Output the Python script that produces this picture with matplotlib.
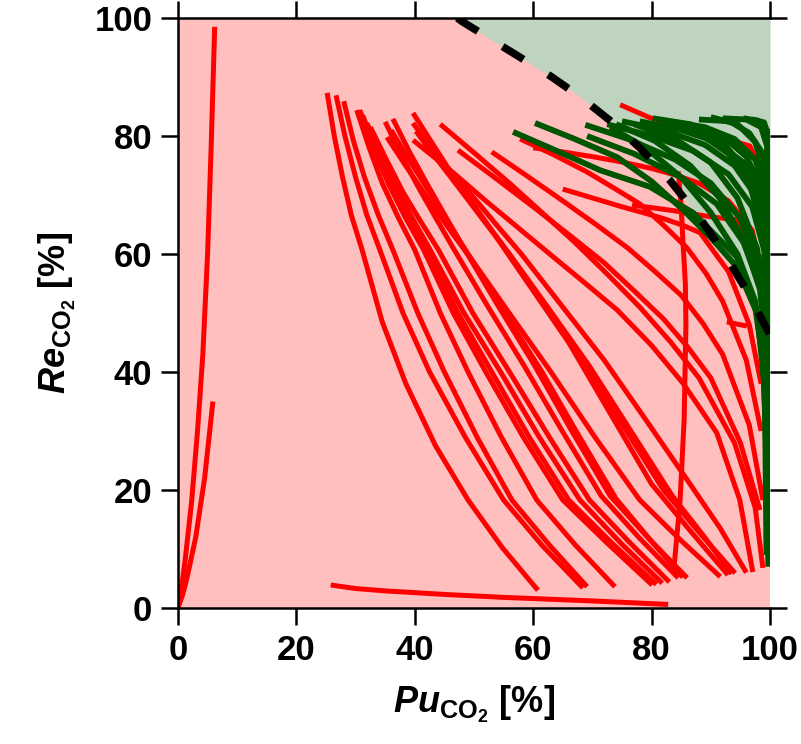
import matplotlib
matplotlib.use("Agg")
import matplotlib.pyplot as plt

plt.rcParams['font.family'] = ['Liberation Sans', 'DejaVu Sans']
plt.rcParams['font.weight'] = 'bold'
plt.rcParams['mathtext.fontset'] = 'custom'
plt.rcParams['mathtext.rm'] = 'Liberation Sans'
plt.rcParams['mathtext.it'] = 'Liberation Sans:italic:bold'
plt.rcParams['mathtext.bf'] = 'Liberation Sans:bold'

# dashed boundary (purity, recovery) of the target region
bound_x = [47.2, 48.0, 53.0, 58.0, 63.0, 68.0, 73.0, 78.0, 83.0, 88.0,
           92.0, 96.0, 100.0]
bound_y = [100.0, 99.4, 96.3, 93.2, 90.1, 86.6, 82.6, 78.0, 72.6, 66.3,
           60.5, 53.9, 46.3]

# red trajectories (Pu, Re)
red_x = [
    [25.2, 26.4, 27.8, 29.3, 31.1, 34.5, 38.5, 43.5, 49.0, 54.8, 60.8],
    [26.7, 28.2, 30.0, 31.9, 34.1, 38.0, 42.5, 48.5, 55.0, 61.6, 68.4],
    [28.0, 29.6, 31.5, 33.8, 36.3, 40.5, 45.0, 50.5, 56.4, 62.7, 69.1],
    [30.2, 32.3, 34.5, 37.2, 40.0, 44.3, 49.0, 54.6, 60.6, 67.1, 73.8],
    [30.7, 33.0, 35.5, 38.4, 41.5, 46.5, 52.0, 58.3, 65.0, 72.5, 80.1],
    [31.2, 33.5, 36.0, 38.9, 42.0, 47.3, 53.0, 59.3, 66.0, 73.3, 80.8],
    [31.9, 34.4, 37.0, 39.8, 42.6, 48.3, 54.5, 61.0, 67.9, 74.8, 81.8],
    [32.5, 35.2, 38.0, 41.0, 44.0, 49.8, 56.0, 62.7, 69.5, 76.2, 83.0],
    [35.0, 37.7, 40.5, 43.5, 46.5, 52.4, 58.5, 64.9, 71.5, 78.0, 84.5],
    [36.3, 39.1, 42.0, 45.0, 48.0, 53.9, 60.0, 66.4, 73.0, 79.5, 86.0],
    [36.0, 39.2, 42.5, 45.7, 49.0, 55.2, 61.5, 67.7, 74.0, 79.8, 85.3],
    [35.3, 38.9, 42.5, 46.2, 50.0, 56.5, 63.0, 70.4, 78.0, 84.9, 91.6],
    [39.7, 42.8, 46.0, 49.5, 53.0, 59.5, 66.0, 73.0, 80.0, 86.6, 92.9],
    [39.7, 43.3, 47.0, 50.7, 54.5, 61.0, 67.5, 74.8, 82.0, 88.3, 94.1],
    [40.2, 44.1, 48.0, 52.0, 56.0, 62.8, 69.5, 76.5, 83.5, 88.8, 93.5],
    [41.5, 45.7, 50.0, 54.0, 58.0, 65.0, 72.0, 79.3, 86.5, 91.6, 96.0],
    [39.7, 46.0, 52.0, 58.0, 64.0, 69.2, 74.2, 80.0, 85.3, 91.0, 94.9, 97.1],
    [44.3, 50.2, 56.0, 61.5, 67.0, 72.5, 78.0, 83.2, 88.0, 94.0, 97.5, 98.8],
    [47.3, 53.7, 60.0, 66.0, 72.0, 77.0, 82.0, 86.2, 90.0, 95.0, 98.3],
    [53.0, 59.0, 65.0, 70.6, 76.0, 80.6, 85.0, 88.7, 92.0, 96.5, 98.8],
    [57.8, 63.5, 69.1, 73.6, 78.0, 82.1, 86.0, 89.2, 92.0, 96.0, 98.5],
    [65.0, 70.0, 75.0, 78.6, 82.0, 85.2, 88.2, 93.0, 96.5, 98.5],
    [60.0, 65.0, 70.0, 75.0, 80.0, 84.0, 88.0, 93.0, 97.0, 99.0],
    [76.7, 80.4, 84.0, 87.0, 90.0, 94.4, 96.6, 98.5],
    [92.7, 94.5, 96.1],
    [74.7, 77.2, 79.7, 83.0, 86.0, 92.0, 96.6, 98.8],
    [84.5, 85.0, 85.3, 85.7, 85.8, 85.5, 84.8, 83.8],
    [25.8, 30.0, 35.0, 45.0, 55.0, 70.0, 82.8],
    [0.0, 0.6, 1.2, 2.3, 3.3, 4.2, 5.0, 5.6, 6.2],
    [0.0, 0.8, 1.5, 3.0, 4.5, 5.9],
]
red_y = [
    [87.3, 80.0, 73.0, 66.5, 60.7, 48.5, 38.0, 27.5, 18.3, 10.2, 3.0],
    [86.9, 80.0, 73.0, 66.6, 60.7, 50.0, 40.0, 29.0, 18.3, 10.5, 3.4],
    [85.9, 79.3, 73.0, 66.7, 60.7, 50.0, 40.0, 29.0, 18.3, 10.7, 3.6],
    [84.4, 78.0, 72.0, 66.2, 60.7, 50.0, 40.0, 29.0, 18.3, 10.7, 3.6],
    [84.4, 78.0, 72.0, 66.2, 60.7, 50.0, 40.0, 29.0, 18.3, 11.0, 3.9],
    [83.5, 77.3, 71.5, 66.0, 60.7, 50.0, 40.0, 29.0, 18.3, 11.0, 4.0],
    [82.2, 76.5, 71.0, 65.7, 60.7, 50.0, 40.0, 29.0, 18.3, 11.0, 4.2],
    [81.5, 76.0, 70.5, 65.5, 60.7, 50.0, 40.0, 29.0, 18.3, 11.2, 4.4],
    [82.4, 76.8, 71.5, 66.2, 61.0, 51.0, 41.0, 30.0, 19.0, 11.8, 5.1],
    [82.9, 77.3, 72.0, 66.7, 61.5, 51.5, 41.5, 30.2, 19.0, 11.8, 5.1],
    [81.0, 75.7, 70.5, 65.2, 60.0, 50.0, 40.0, 29.2, 18.5, 11.5, 5.2],
    [79.8, 74.3, 69.0, 63.7, 58.5, 49.2, 40.0, 29.0, 18.3, 11.5, 5.3],
    [83.9, 79.0, 74.0, 69.0, 64.0, 54.5, 45.0, 33.0, 21.0, 13.0, 5.6],
    [82.2, 77.0, 72.0, 67.0, 62.0, 52.5, 43.0, 31.5, 20.0, 12.5, 5.9],
    [80.8, 75.6, 70.5, 65.2, 60.0, 50.5, 41.0, 30.0, 19.0, 12.2, 5.8],
    [79.0, 74.2, 69.5, 64.7, 60.0, 51.0, 42.0, 31.5, 21.0, 13.5, 6.0],
    [79.3, 74.2, 69.0, 64.0, 59.0, 54.7, 50.5, 44.5, 38.1, 29.7, 18.3, 6.1],
    [82.0, 77.0, 72.0, 67.0, 62.0, 56.6, 51.0, 45.1, 39.0, 28.0, 17.0, 6.8],
    [77.6, 72.8, 68.0, 63.3, 58.5, 53.8, 49.0, 44.1, 39.0, 28.0, 16.6],
    [77.3, 73.2, 69.0, 65.0, 61.0, 57.0, 53.0, 48.2, 43.0, 31.0, 18.3],
    [79.5, 76.8, 73.9, 71.2, 68.5, 64.8, 61.0, 56.7, 52.0, 42.0, 30.0],
    [71.0, 69.5, 68.0, 67.0, 66.0, 64.9, 63.6, 57.0, 48.0, 38.0],
    [78.0, 77.3, 76.5, 75.6, 74.5, 73.4, 72.0, 69.0, 64.0, 55.0],
    [68.3, 67.8, 67.3, 66.8, 66.3, 65.8, 62.4, 55.0],
    [48.5, 48.1, 47.8],
    [85.3, 84.2, 83.1, 82.2, 81.3, 79.7, 78.3, 73.5],
    [74.0, 68.0, 62.0, 55.0, 48.0, 32.0, 18.0, 7.0],
    [3.9, 3.3, 2.9, 2.3, 1.8, 1.2, 0.6],
    [0.0, 3.5, 8.0, 18.0, 30.0, 43.0, 60.0, 78.0, 98.5],
    [0.0, 2.3, 5.0, 12.0, 22.0, 35.0],
]

# green trajectories (Pu, Re)
green_x = [
    [56.6, 62.8, 71.3, 79.7, 87.0, 94.4, 97.5, 98.8, 99.3],
    [60.3, 67.0, 74.2, 80.0, 85.3, 90.0, 94.4, 97.8, 99.0, 99.4],
    [68.8, 76.0, 84.0, 90.0, 95.0, 98.0, 99.5],
    [69.1, 77.0, 85.0, 91.0, 95.5, 98.5, 99.5],
    [73.0, 79.0, 85.0, 90.0, 94.5, 97.5, 99.3],
    [74.0, 80.5, 86.5, 91.5, 95.5, 98.3, 99.6],
    [72.5, 80.0, 87.0, 93.0, 97.0, 99.2, 99.8],
    [77.0, 84.0, 90.0, 94.5, 97.8, 99.5],
    [75.0, 82.0, 89.0, 94.0, 97.5, 99.3, 99.8],
    [78.0, 85.0, 91.0, 95.5, 98.3, 99.6],
    [82.0, 88.0, 93.0, 96.5, 98.8, 99.7],
    [80.2, 86.5, 92.0, 96.0, 98.7, 99.7],
    [86.0, 92.0, 96.0, 98.5, 99.5],
    [84.0, 89.0, 94.0, 97.5, 99.2, 99.8],
    [88.0, 93.2, 96.5, 98.8, 99.8],
    [90.0, 94.5, 97.5, 99.3, 99.8],
    [92.0, 96.0, 98.5, 99.6, 99.8],
    [95.5, 98.0, 99.5, 99.8],
    [97.0, 99.0, 99.7, 99.8],
    [99.5, 99.6, 99.6, 99.7],
    [99.0, 99.1, 99.3, 99.4],
]
green_y = [
    [80.7, 78.0, 74.2, 71.4, 67.0, 59.5, 51.0, 42.0, 30.0],
    [82.2, 79.5, 76.4, 72.3, 67.5, 62.8, 57.8, 50.0, 38.6, 25.0],
    [81.9, 79.5, 76.0, 72.0, 66.0, 58.0, 48.0],
    [80.0, 77.0, 73.0, 68.5, 62.0, 54.0, 44.0],
    [81.5, 78.0, 73.0, 67.0, 60.0, 52.0, 40.0],
    [82.0, 79.2, 75.0, 69.5, 62.5, 54.0, 42.0],
    [82.0, 80.0, 77.5, 73.5, 68.0, 60.0, 50.0],
    [82.0, 79.5, 75.5, 69.5, 61.0, 50.0],
    [82.5, 81.0, 78.5, 75.0, 70.0, 63.0, 54.0],
    [82.5, 81.0, 79.0, 75.5, 70.0, 62.0],
    [82.5, 80.5, 77.0, 72.0, 64.0, 55.0],
    [83.0, 82.0, 80.0, 76.5, 71.0, 64.0],
    [82.0, 79.0, 74.0, 66.0, 56.0],
    [82.3, 81.5, 79.5, 76.0, 71.0, 66.0],
    [82.8, 82.5, 80.5, 77.0, 70.0],
    [83.2, 82.0, 79.0, 73.0, 62.0],
    [83.0, 82.8, 81.5, 78.0, 72.0],
    [83.0, 82.6, 81.0, 77.0],
    [82.8, 82.3, 80.0, 74.0],
    [81.0, 60.0, 30.0, 7.0],
    [60.0, 40.0, 20.0, 9.0],
]

ticks = [0, 20, 40, 60, 80, 100]

fig = plt.figure(figsize=(8.01, 7.44), dpi=100)
ax = fig.add_axes([0.2222, 0.1828, 0.7391, 0.7930])
ax.set_facecolor('#ffbfbf')

ax.fill_between(bound_x, bound_y, 100, color='#bfd4bf', lw=0, zorder=1)

for xs, ys in zip(red_x, red_y):
    ax.plot(xs, ys, color='#ff0000', lw=3.6, solid_capstyle='butt',
            solid_joinstyle='round', zorder=2)
for xs, ys in zip(green_x, green_y):
    ax.plot(xs, ys, color='#005500', lw=4.2, solid_capstyle='butt',
            solid_joinstyle='round', zorder=3)

ax.plot(bound_x, bound_y, color='black', lw=5.5, dashes=(3.2, 3.8),
        dash_capstyle='butt', zorder=4)

ax.set_xlim(0, 100)
ax.set_ylim(0, 100)
ax.set_xticks(ticks)
ax.set_yticks(ticks)
ax.tick_params(direction='out', length=12.5, width=1.8, labelsize=25, pad=6,
               top=True, right=True)
for s in ['left', 'bottom', 'top']:
    ax.spines[s].set_linewidth(1.8)
ax.spines['right'].set_visible(False)
for lab in ax.get_xticklabels() + ax.get_yticklabels():
    lab.set_fontweight('bold')

ax.set_xlabel(r'$\mathit{Pu}_{\mathrm{CO}_{2}}$ [%]', fontsize=26,
              fontweight='bold', labelpad=12)
ax.set_ylabel(r'$\mathit{Re}_{\mathrm{CO}_{2}}$ [%]', fontsize=26,
              fontweight='bold', labelpad=12)

fig.savefig('out.png', dpi=100)
